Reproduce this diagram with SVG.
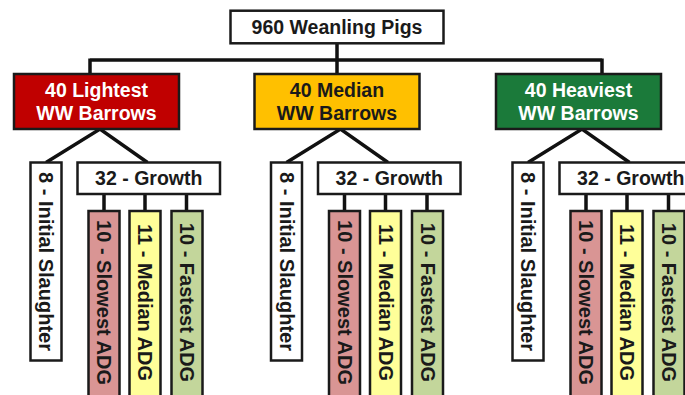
<svg xmlns="http://www.w3.org/2000/svg" width="685" height="395" viewBox="0 0 685 395">
<style>
.box{stroke:#1a1a1a;stroke-width:2.5}
.w{fill:#ffffff}
.t{font-family:"Liberation Sans",Arial,sans-serif;font-weight:bold;font-size:19.5px;text-anchor:middle;fill:#1a1a1a}
.r{font-size:20px;dominant-baseline:central}
.lt{fill:#ffffff}
.conn{stroke:#111;stroke-width:3.5;fill:none}
</style>
<rect width="685" height="395" fill="#ffffff"/>
<g id="connectors" class="conn">
<path d="M337 43V74M90 60H602M90 58.5V74M602 58.5V74"/>
<path d="M46 162.5L100 129L147.5 162.5M104 194V211M145 194V211M186.5 194V211"/>
<path d="M286.5 162.5L340.5 129L388 162.5M344.5 194V211M385.5 194V211M427 194V211"/>
<path d="M528 162.5L582 129L629.5 162.5M586 194V211M627 194V211M668.5 194V211"/>
</g>
<g id="root"><rect class="box w" x="230.5" y="10.7" width="213" height="32.6"/><text class="t" x="337" y="33.5">960 Weanling Pigs</text></g>

<g id="lightest"><rect class="box" fill="#c00000" x="14" y="74" width="165" height="55"/><text class="t lt" x="96.5" y="97">40 Lightest</text><text class="t lt" x="96.5" y="120">WW Barrows</text></g>
<g id="l-initial"><rect class="box w" x="30.5" y="162.5" width="31" height="198"/><text class="t r" transform="translate(46 261.5) rotate(90)">8 - Initial Slaughter</text></g>
<g id="l-growth"><rect class="box w" x="77.5" y="162.5" width="142.5" height="31.5"/><text class="t" x="148.75" y="185">32 - Growth</text></g>
<g id="l-slow"><rect class="box" fill="#d99594" x="88.5" y="211" width="31" height="200"/><text class="t r" transform="translate(104 302.5) rotate(90)">10 - Slowest ADG</text></g>
<g id="l-med"><rect class="box" fill="#ffff99" x="129.5" y="211" width="31" height="200"/><text class="t r" transform="translate(145 302.5) rotate(90)">11 - Median ADG</text></g>
<g id="l-fast"><rect class="box" fill="#c3d69b" x="171.5" y="211" width="31" height="200"/><text class="t r" transform="translate(187 302.5) rotate(90)">10 - Fastest ADG</text></g>

<g id="median"><rect class="box" fill="#ffc000" x="254.5" y="74" width="165" height="55"/><text class="t" x="337" y="97">40 Median</text><text class="t" x="337" y="120">WW Barrows</text></g>
<g id="m-initial"><rect class="box w" x="271" y="162.5" width="31" height="198"/><text class="t r" transform="translate(286.5 261.5) rotate(90)">8 - Initial Slaughter</text></g>
<g id="m-growth"><rect class="box w" x="318" y="162.5" width="142.5" height="31.5"/><text class="t" x="389.25" y="185">32 - Growth</text></g>
<g id="m-slow"><rect class="box" fill="#d99594" x="329" y="211" width="31" height="200"/><text class="t r" transform="translate(344.5 302.5) rotate(90)">10 - Slowest ADG</text></g>
<g id="m-med"><rect class="box" fill="#ffff99" x="370" y="211" width="31" height="200"/><text class="t r" transform="translate(385.5 302.5) rotate(90)">11 - Median ADG</text></g>
<g id="m-fast"><rect class="box" fill="#c3d69b" x="412" y="211" width="31" height="200"/><text class="t r" transform="translate(427.5 302.5) rotate(90)">10 - Fastest ADG</text></g>

<g id="heaviest"><rect class="box" fill="#1b7a3a" x="496" y="74" width="165" height="55"/><text class="t lt" x="578.5" y="97">40 Heaviest</text><text class="t lt" x="578.5" y="120">WW Barrows</text></g>
<g id="h-initial"><rect class="box w" x="512.5" y="162.5" width="31" height="198"/><text class="t r" transform="translate(528 261.5) rotate(90)">8 - Initial Slaughter</text></g>
<g id="h-growth"><rect class="box w" x="559.5" y="162.5" width="142.5" height="31.5"/><text class="t" x="630.75" y="185">32 - Growth</text></g>
<g id="h-slow"><rect class="box" fill="#d99594" x="570.5" y="211" width="31" height="200"/><text class="t r" transform="translate(586 302.5) rotate(90)">10 - Slowest ADG</text></g>
<g id="h-med"><rect class="box" fill="#ffff99" x="611.5" y="211" width="31" height="200"/><text class="t r" transform="translate(627 302.5) rotate(90)">11 - Median ADG</text></g>
<g id="h-fast"><rect class="box" fill="#c3d69b" x="653.5" y="211" width="31" height="200"/><text class="t r" transform="translate(669 302.5) rotate(90)">10 - Fastest ADG</text></g>
</svg>
